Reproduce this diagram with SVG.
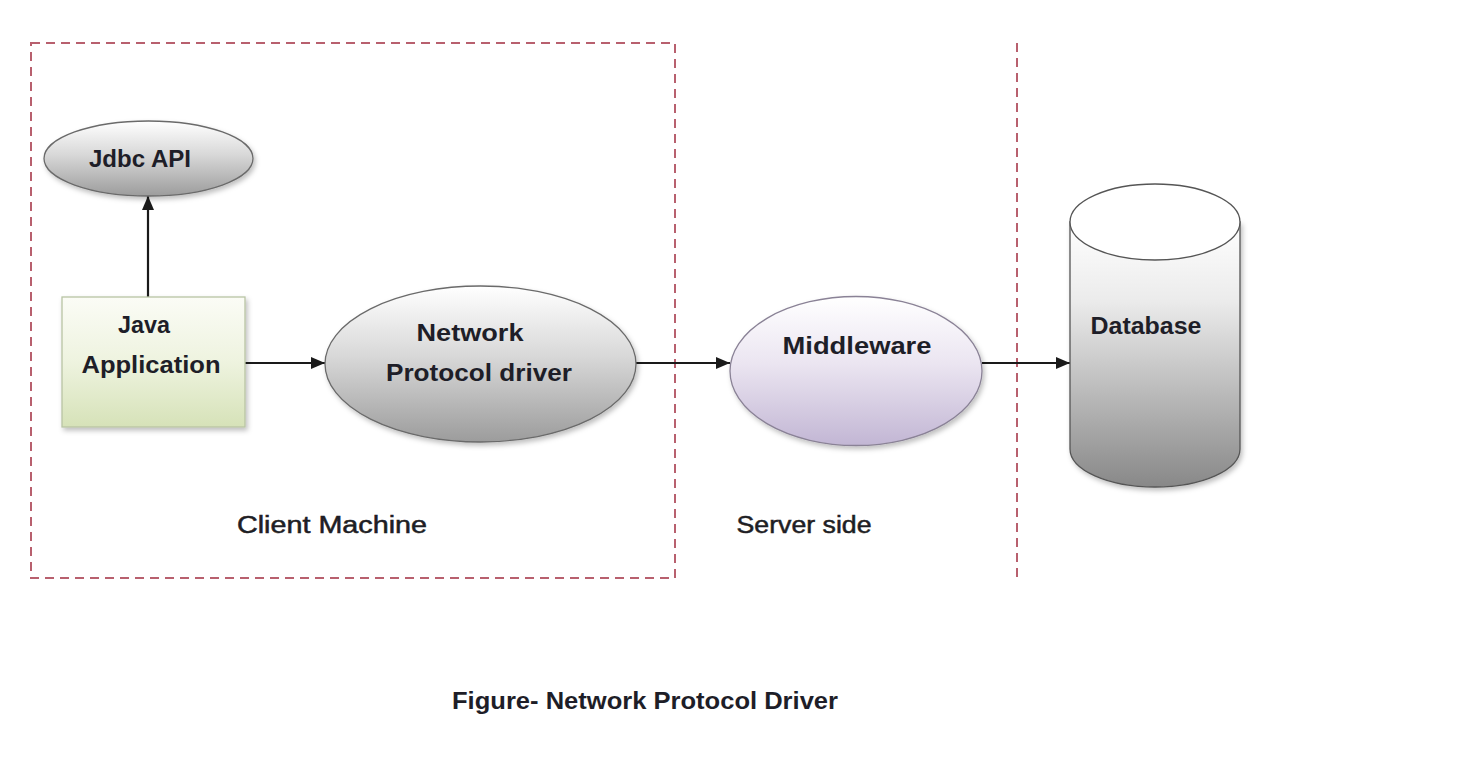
<svg xmlns="http://www.w3.org/2000/svg" width="1462" height="770" viewBox="0 0 1462 770">
<style>
.lbl{font-family:"Liberation Sans",Arial,sans-serif;font-weight:bold;font-size:23px;fill:#1e1e28;text-anchor:middle}
.cap{font-family:"Liberation Sans",Arial,sans-serif;font-size:23px;fill:#1e1e24;text-anchor:middle;stroke:#1e1e24;stroke-width:0.5}
.bound{fill:none;stroke:#b8606e;stroke-width:2;stroke-dasharray:9 6}
.conn{stroke:#1a1a1a;stroke-width:2.2;fill:none}
.nodeline{stroke:#6a6a6a;stroke-width:1.3}
</style>
<defs>
<linearGradient id="grey" x1="0" y1="0" x2="0" y2="1">
<stop offset="0" stop-color="#ffffff"/>
<stop offset="0.45" stop-color="#d8d8d8"/>
<stop offset="1" stop-color="#9c9c9c"/>
</linearGradient>
<linearGradient id="lav" x1="0" y1="0" x2="0" y2="1">
<stop offset="0" stop-color="#ffffff"/>
<stop offset="0.45" stop-color="#ebe5f1"/>
<stop offset="1" stop-color="#c2b6d4"/>
</linearGradient>
<linearGradient id="green" x1="0" y1="0" x2="0" y2="1">
<stop offset="0" stop-color="#fbfcf6"/>
<stop offset="0.5" stop-color="#eef3df"/>
<stop offset="1" stop-color="#d6e2b8"/>
</linearGradient>
<linearGradient id="cyl" x1="0" y1="0" x2="0" y2="1">
<stop offset="0" stop-color="#ffffff"/>
<stop offset="0.3" stop-color="#ebebeb"/>
<stop offset="1" stop-color="#888888"/>
</linearGradient>
<filter id="sh" x="-10%" y="-10%" width="125%" height="130%">
<feDropShadow dx="2" dy="3" stdDeviation="2.5" flood-color="#000" flood-opacity="0.25"/>
</filter>
<marker id="arr" viewBox="0 0 14 12" refX="14" refY="6" markerWidth="14" markerHeight="12" markerUnits="userSpaceOnUse" orient="auto">
<path d="M0,0 L14,6 L0,12 Z" fill="#1a1a1a"/>
</marker>
</defs>
<rect width="1462" height="770" fill="#ffffff"/>

<g id="boundaries">
<rect class="bound" x="31" y="43" width="644" height="535"/>
<line class="bound" x1="1017" y1="43" x2="1017" y2="578"/>
</g>

<g id="connectors">
<line class="conn" x1="148" y1="297" x2="148" y2="196" marker-end="url(#arr)"/>
<line class="conn" x1="245" y1="363" x2="325" y2="363" marker-end="url(#arr)"/>
<line class="conn" x1="636" y1="363" x2="730" y2="363" marker-end="url(#arr)"/>
<line class="conn" x1="982" y1="363" x2="1070" y2="363" marker-end="url(#arr)"/>
</g>

<g id="jdbc-api">
<ellipse cx="148.5" cy="158.5" rx="104.5" ry="37.5" fill="url(#grey)" class="nodeline" filter="url(#sh)"/>
<text class="lbl" x="140" y="167" textLength="102" lengthAdjust="spacingAndGlyphs">Jdbc API</text>
</g>

<g id="java-application">
<rect x="62" y="297" width="183" height="130" fill="url(#green)" stroke="#b8c4a4" stroke-width="1.3" filter="url(#sh)"/>
<text class="lbl" x="144" y="333" textLength="52" lengthAdjust="spacingAndGlyphs">Java</text>
<text class="lbl" x="151" y="373" textLength="139" lengthAdjust="spacingAndGlyphs">Application</text>
</g>

<g id="network-protocol-driver">
<ellipse cx="480.5" cy="364" rx="155.5" ry="78" fill="url(#grey)" class="nodeline" filter="url(#sh)"/>
<text class="lbl" x="470" y="341" textLength="107" lengthAdjust="spacingAndGlyphs">Network</text>
<text class="lbl" x="479" y="381" textLength="186" lengthAdjust="spacingAndGlyphs">Protocol  driver</text>
</g>

<g id="middleware">
<ellipse cx="856" cy="371" rx="126" ry="74.5" fill="url(#lav)" stroke="#8a8296" stroke-width="1.3" filter="url(#sh)"/>
<text class="lbl" x="857" y="354" textLength="149" lengthAdjust="spacingAndGlyphs">Middleware</text>
</g>

<g id="database">
<path d="M1070,222 L1070,449 A85,38 0 0 0 1240,449 L1240,222 Z" fill="url(#cyl)" stroke="#555" stroke-width="1.3" filter="url(#sh)"/>
<ellipse cx="1155" cy="222" rx="85" ry="38" fill="#ffffff" stroke="#555" stroke-width="1.3"/>
<text class="lbl" x="1146" y="334" textLength="111" lengthAdjust="spacingAndGlyphs">Database</text>
</g>

<g id="captions">
<text class="cap" x="332" y="533" textLength="190" lengthAdjust="spacingAndGlyphs">Client  Machine</text>
<text class="cap" x="804" y="533" textLength="135" lengthAdjust="spacingAndGlyphs">Server side</text>
<text class="lbl" x="645" y="709" font-size="24" textLength="386" lengthAdjust="spacingAndGlyphs">Figure- Network Protocol Driver</text>
</g>
</svg>
